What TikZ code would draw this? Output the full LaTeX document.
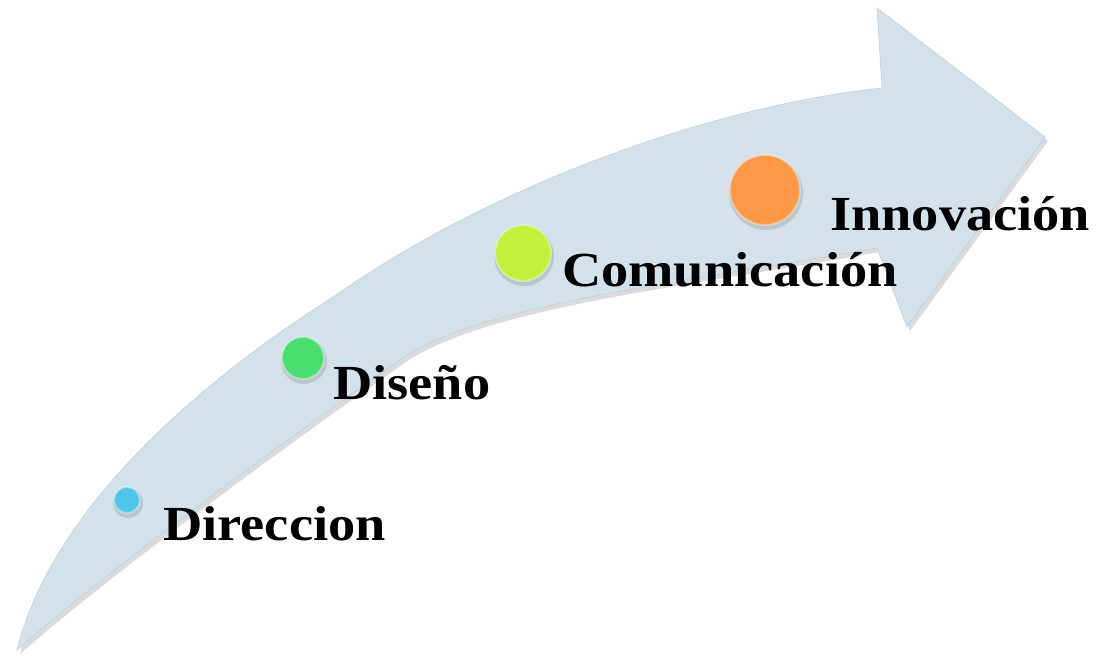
\documentclass[tikz,border=0pt]{standalone}
\usepackage{fontspec}
\setmainfont{Liberation Serif}[FakeStretch=1.11]
\usepackage{tikz}
\usetikzlibrary{positioning}
\definecolor{arrowfill}{RGB}{211,226,234}
\definecolor{arrowedge}{RGB}{190,208,218}
\definecolor{dotblue}{RGB}{78,198,232}
\definecolor{dotgreen}{RGB}{72,222,110}
\definecolor{dotlime}{RGB}{196,240,60}
\definecolor{dotorange}{RGB}{255,152,70}

\begin{document}
\begin{tikzpicture}[x=1pt, y=-1pt,
	dot/.style={circle, inner sep=0pt, draw=white, draw opacity=0.35, line width=2pt},
	halo/.style={circle, inner sep=0pt, fill=black, opacity=0.12},
	lbl/.style={anchor=base west, inner sep=0pt, font=\bfseries\fontsize{49}{58}\selectfont}]
		\useasboundingbox (0,0) rectangle (1099,656);
		
		% Arrow shadow
		\fill[black!40, opacity=0.35, shift={(3,4)}]
		(17,650) .. controls (52,510) and (195,385) .. (333,297)
		.. controls (500,180) and (720,105) .. (882,88)
		-- (877,8) -- (1045,137) -- (907,327) -- (877,248)
		.. controls (680,283) and (480,304) .. (400,360)
		.. controls (300,430) and (120,560) .. (17,650) -- cycle;
		
		% Arrow
		\filldraw[fill=arrowfill, draw=arrowedge, line width=0.6pt]
		(17,650) .. controls (52,510) and (195,385) .. (333,297)
		.. controls (500,180) and (720,105) .. (882,88)
		-- (877,8) -- (1045,137) -- (907,327) -- (877,248)
		.. controls (680,283) and (480,304) .. (400,360)
		.. controls (300,430) and (120,560) .. (17,650) -- cycle;
		
		% Dots
		\foreach \x/\y/\s in {127/500/26, 303/358/42, 523/253/56, 765/190/70}
			\node[halo, minimum size=\s pt+4pt] at (\x+1,\y+3) {};
		\node[dot, fill=dotblue, minimum size=26pt] (d1) at (127,500) {};
		\node[dot, fill=dotgreen, minimum size=42pt] (d2) at (303,358) {};
		\node[dot, fill=dotlime, minimum size=56pt] (d3) at (523,253) {};
		\node[dot, fill=dotorange, minimum size=70pt] (d4) at (765,190) {};
		
		% Labels
		\node[lbl] (dir) at (163,540) {Direccion};
		\node[lbl] (dis) at (333,399) {Diseño};
		\node[lbl] (com) at (562,286) {Comunicación};
		\node[lbl] (inn) at (830,230) {Innovación};
	\end{tikzpicture}
\end{document}
